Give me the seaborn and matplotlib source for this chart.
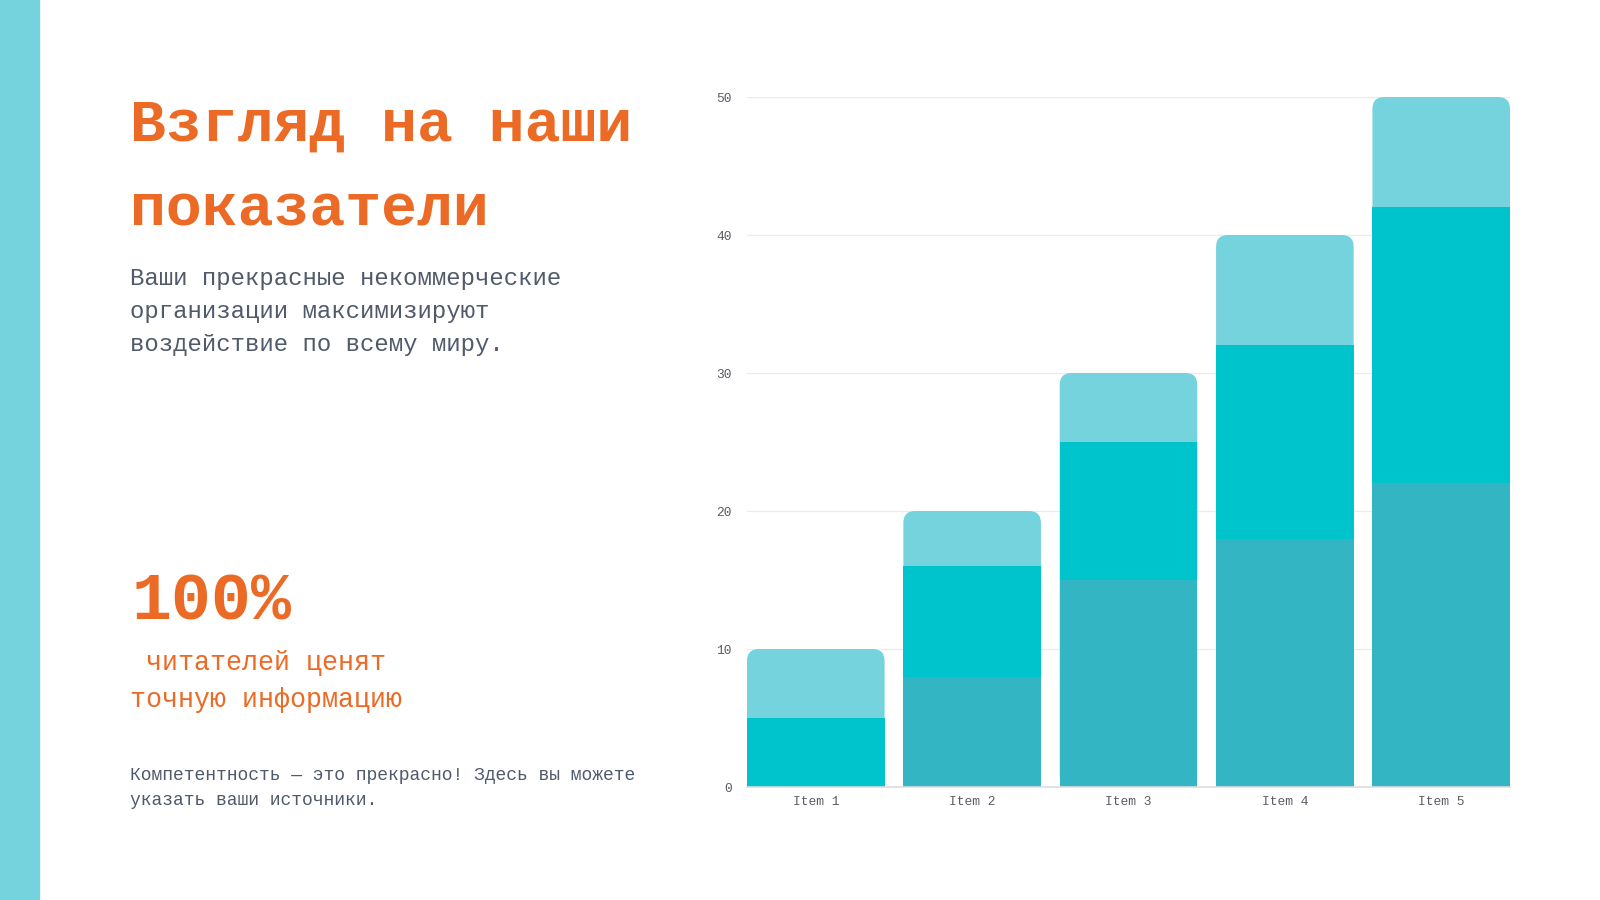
import numpy as np
import pandas as pd
import matplotlib.pyplot as plt
import seaborn as sns
from matplotlib.patches import FancyBboxPatch, Rectangle

sns.set_theme(style='white')
plt.rcParams['font.family'] = ['Liberation Mono', 'DejaVu Sans']

items = ['Item 1', 'Item 2', 'Item 3', 'Item 4', 'Item 5']
series_1 = [0, 8, 15, 18, 22]
series_2 = [5, 8, 10, 14, 20]
series_3 = [5, 4, 5, 8, 8]

orange = '#EB6A25'
grey_text = '#505A6B'
light = '#74D3DC'
mid = '#00C4CC'
dark = '#33B5C4'

W, H = 1600, 900
df = pd.DataFrame({'item': items, 's1': series_1, 's2': series_2, 's3': series_3})
df['upto2'] = df['s1'] + df['s2']
df['total'] = df['upto2'] + df['s3']

fig = plt.figure(figsize=(16, 9), dpi=100)
fig.patches.append(Rectangle((0, 0), 39 / W, 1, transform=fig.transFigure,
                             color=light, zorder=0))

ax = fig.add_axes([747 / W, 113 / H, 763 / W, 690 / H])
ax.set_axisbelow(True)

# top series first (drawn as full stack height), then cover with lower ones
sns.barplot(data=df, x='item', y='total', color=light, width=0.88,
            errorbar=None, saturation=1, ax=ax)
n_top = len(ax.patches)
sns.barplot(data=df, x='item', y='upto2', color=mid, width=0.88,
            errorbar=None, saturation=1, ax=ax)
sns.barplot(data=df, x='item', y='s1', color=dark, width=0.88,
            errorbar=None, saturation=1, ax=ax)

ax.set_xlim(-0.44, 4.44)
ax.set_ylim(0, 50)

# round the top corners of the tallest bars
x_px = ax.transData.transform((1, 0))[0] - ax.transData.transform((0, 0))[0]
y_px = ax.transData.transform((0, 1))[1] - ax.transData.transform((0, 0))[1]
aspect = x_px / y_px
radius = 12 / x_px
for p in list(ax.patches[:n_top]):
    rounded = FancyBboxPatch((p.get_x(), p.get_y()), p.get_width(), p.get_height(),
                             boxstyle='round,pad=0,rounding_size={}'.format(radius),
                             mutation_aspect=aspect, facecolor=light,
                             edgecolor='none')
    p.remove()
    ax.add_patch(rounded)
for p in ax.patches:
    p.set_edgecolor('none')
    p.set_zorder(1 if isinstance(p, FancyBboxPatch) else 2)

ax.set_yticks([0, 10, 20, 30, 40, 50])
ax.yaxis.grid(True, color='#EBEBEB', linewidth=0.9)
ax.xaxis.grid(False)
ax.set_xlabel('')
ax.set_ylabel('')
for s in ['top', 'right', 'left']:
    ax.spines[s].set_visible(False)
ax.spines['bottom'].set_color('#DDDDDD')
ax.spines['bottom'].set_linewidth(1.2)
ax.spines['bottom'].set_zorder(3)
ax.tick_params(axis='y', length=0, pad=10.8, labelsize=9.3, labelcolor='#5A5A66')
ax.tick_params(axis='x', length=0, pad=6.5, labelsize=9.3, labelcolor='#5A5A66')


def put(x, y, s, **kw):
    fig.text(x / W, 1 - y / H, s, va='baseline', ha='left', **kw)


put(130, 141, 'Взгляд на наши', fontsize=43, fontweight='bold', color=orange)
put(130, 225, 'показатели', fontsize=43, fontweight='bold', color=orange)

for y, line in zip([285, 318, 351], ['Ваши прекрасные некоммерческие',
                                     'организации максимизируют',
                                     'воздействие по всему миру.']):
    put(130, y, line, fontsize=17.3, color=grey_text)

put(132, 620, '100%', fontsize=48, fontweight='bold', color=orange)
put(130, 670, ' читателей ценят', fontsize=19.2, color=orange)
put(130, 707, 'точную информацию', fontsize=19.2, color=orange)

put(130, 780, 'Компетентность — это прекрасно! Здесь вы можете', fontsize=13, color=grey_text)
put(130, 805, 'указать ваши источники.', fontsize=13, color=grey_text)

fig.savefig('out.png', dpi=100, facecolor='white')
